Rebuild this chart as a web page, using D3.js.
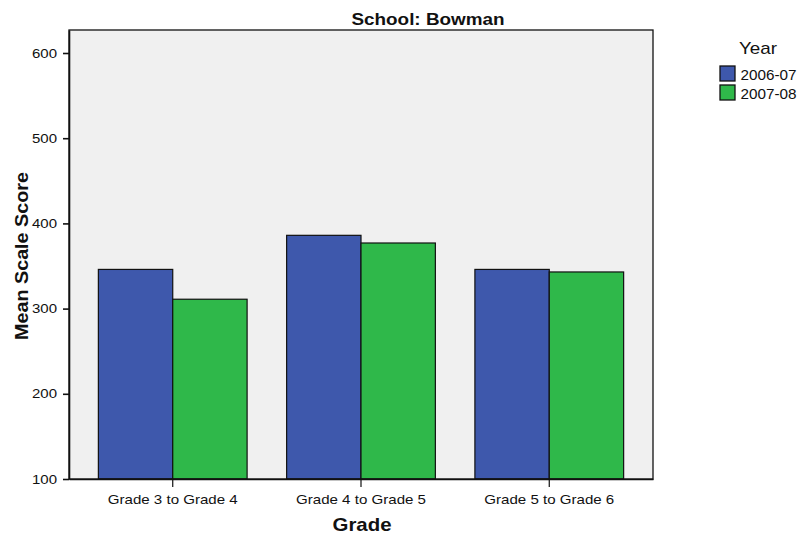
<!DOCTYPE html>
<html><head><meta charset="utf-8">
<script src="https://cdn.jsdelivr.net/npm/d3@7"></script>
<style>body{margin:0;background:#fff;}svg{display:block;font-family:Arial,"Liberation Sans",sans-serif;}</style>
</head><body>
<script>
const categories = ["Grade 3 to Grade 4", "Grade 4 to Grade 5", "Grade 5 to Grade 6"];
const seriesNames = ["2006-07", "2007-08"];
const values0607 = [346, 386, 346];
const values0708 = [311, 377, 343];
const yTicks = [100, 200, 300, 400, 500, 600];
const colors = ["#3e58ac", "#2fb84a"];

const W = 798, H = 535;
const L = 69, R = 653, T = 30, B = 479;
const FONT = "Arial, 'Liberation Sans', sans-serif";
const svg = d3.select("body").append("svg").attr("width", W).attr("height", H);

const y = d3.scaleLinear().domain([100, 627]).range([B, T]);
const x0 = d3.scaleBand().domain(categories).range([L, R]).paddingInner(0.21).paddingOuter(0.156);
const x1 = d3.scaleBand().domain(seriesNames).range([0, x0.bandwidth()]).padding(0);

svg.append("rect").attr("x", L).attr("y", T).attr("width", R - L).attr("height", B - T)
  .attr("fill", "#f0f0f0");

const data = categories.map((c, i) => ({cat: c, vals: [values0607[i], values0708[i]]}));
const g = svg.append("g");
data.forEach(d => {
  d.vals.forEach((v, j) => {
    g.append("rect")
      .attr("x", x0(d.cat) + x1(seriesNames[j]))
      .attr("y", y(v))
      .attr("width", x1.bandwidth())
      .attr("height", y(100) - y(v))
      .attr("fill", colors[j])
      .attr("stroke", "#111").attr("stroke-width", 1.2);
  });
});

svg.append("rect").attr("x", L).attr("y", T).attr("width", R - L).attr("height", B - T)
  .attr("fill", "none").attr("stroke", "#111").attr("stroke-width", 1.3);

const yAxis = svg.append("g").attr("transform", `translate(${L},0)`)
  .call(d3.axisLeft(y).tickValues(yTicks).tickSize(6).tickSizeOuter(0).tickPadding(6));
yAxis.select(".domain").attr("stroke", "#111").attr("stroke-width", 1.6);
yAxis.selectAll(".tick line").attr("stroke", "#111").attr("stroke-width", 1.6);
yAxis.selectAll("text").attr("font-size", 12.5).attr("fill", "#111").attr("font-family", FONT)
  .attr("x", -12).attr("textLength", 25).attr("lengthAdjust", "spacingAndGlyphs");

const xAxis = svg.append("g").attr("transform", `translate(0,${B})`)
  .call(d3.axisBottom(x0).tickSize(8).tickSizeOuter(0));
xAxis.select(".domain").attr("stroke", "#111").attr("stroke-width", 1.6);
xAxis.selectAll(".tick line").attr("stroke", "#111").attr("stroke-width", 1.2);
xAxis.selectAll("text").attr("font-size", 13.5).attr("fill", "#111").attr("font-family", FONT)
  .attr("y", 25).attr("dy", 0).attr("textLength", 130).attr("lengthAdjust", "spacingAndGlyphs");

svg.append("text").attr("x", 428).attr("y", 25).attr("text-anchor", "middle")
  .attr("font-size", 16.5).attr("font-weight", "bold").attr("fill", "#111")
  .attr("textLength", 153).attr("lengthAdjust", "spacingAndGlyphs").text("School: Bowman");

svg.append("text").attr("x", 362).attr("y", 531).attr("text-anchor", "middle")
  .attr("font-size", 18.5).attr("font-weight", "bold").attr("fill", "#111")
  .attr("textLength", 59).attr("lengthAdjust", "spacingAndGlyphs").text("Grade");

svg.append("text").attr("transform", `translate(28,256) rotate(-90)`)
  .attr("text-anchor", "middle").attr("font-size", 18).attr("font-weight", "bold")
  .attr("fill", "#111").attr("textLength", 168).attr("lengthAdjust", "spacingAndGlyphs")
  .text("Mean Scale Score");

const lg = svg.append("g");
lg.append("text").attr("x", 739).attr("y", 54).attr("font-size", 17).attr("fill", "#111")
  .attr("textLength", 38).attr("lengthAdjust", "spacingAndGlyphs").text("Year");
seriesNames.forEach((s, i) => {
  lg.append("rect").attr("x", 720).attr("y", 66 + i * 19).attr("width", 15).attr("height", 15)
    .attr("fill", colors[i]).attr("stroke", "#111").attr("stroke-width", 1.3);
  lg.append("text").attr("x", 740.5).attr("y", 80 + i * 19).attr("font-size", 14.5)
    .attr("fill", "#111").attr("textLength", 56).attr("lengthAdjust", "spacingAndGlyphs").text(s);
});
</script>
</body></html>
